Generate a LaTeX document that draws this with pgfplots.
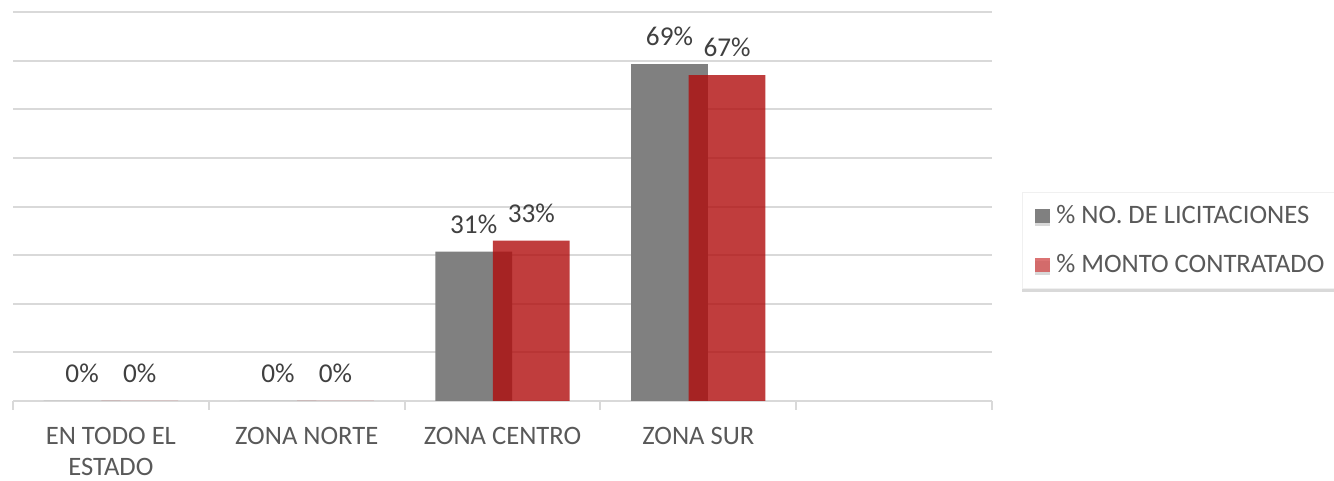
\documentclass[border=0pt]{standalone}
\usepackage{pgfplots}
\pgfplotsset{compat=1.18}
\usepackage{fontspec}
\setmainfont{Carlito}
\usetikzlibrary{shadows}
\definecolor{barGrey}{RGB}{128,128,128}
\definecolor{barRed}{RGB}{176,12,12}
\definecolor{legRed}{RGB}{210,80,80}
\definecolor{gridGrey}{RGB}{217,217,217}
\definecolor{txtGrey}{RGB}{89,89,89}
\definecolor{lblGrey}{RGB}{64,64,64}
\begin{document}
\begin{tikzpicture}
\path[use as bounding box] (-6.5pt,-40pt) rectangle (660.5pt,200.5pt);
\begin{axis}[
  at={(0,0)}, anchor=south west,
  scale only axis, width=489.5pt, height=194.5pt,
  xmin=-0.5, xmax=4.5, ymin=0, ymax=80,
  ybar, bar width=38.35pt,
  xtick={0,1,2,3},
  xticklabels={{EN TODO EL\\ESTADO},{ZONA NORTE},{ZONA CENTRO},{ZONA SUR}},
  xticklabel style={align=center, font=\fontsize{13.3}{15.4}\selectfont, text=txtGrey, inner sep=0pt, yshift=-8.5pt},
  major x tick style={draw=none},
  minor xtick={-0.5,0.5,1.5,2.5,3.5,4.5},
  minor x tick style={gridGrey, line width=1pt},
  tick align=outside, minor tick length=4.5pt, major tick length=4.5pt,
  ytick={0,10,...,80}, yticklabels={}, major y tick style={draw=none},
  ymajorgrids, grid style={gridGrey, line width=1pt},
  axis x line*=bottom, axis y line*=left,
  x axis line style={gridGrey, line width=1pt, -},
  y axis line style={draw=none},
  /pgf/number format/assume math mode=true,
  /pgf/number format/.cd, fixed, precision=0, /pgfplots/.cd,
  nodes near coords={\pgfmathprintnumber{\pgfplotspointmeta}\%},
  nodes near coords style={font=\fontsize{13.6}{16}\selectfont, text=lblGrey, text opacity=1, fill opacity=1, anchor=base, inner sep=0pt, yshift=9.25pt},
  legend style={at={(1.0306,0.5373)}, anchor=north west, draw=gray!12, fill=white,
    drop shadow={shadow xshift=0pt, shadow yshift=-1.5pt, opacity=0.3},
    font=\fontsize{13.3}{16}\selectfont, text=txtGrey, row sep=10pt,
    inner xsep=6.5pt, inner ysep=4.5pt, column sep=1pt},
  legend cell align=left,
  legend image code/.code={\fill[#1] (0pt,-3.6pt) rectangle (7.5pt,3.6pt);},
]
\addplot[fill=barGrey, draw=none, bar shift=-14.4pt] coordinates {(0,0) (1,0) (2,30.7) (3,69.3)};
\addplot[fill=barRed, fill opacity=0.8, draw=none, bar shift=14.4pt,
  legend image code/.code={\fill[legRed] (0pt,-3.6pt) rectangle (7.5pt,3.6pt);}] coordinates {(0,0) (1,0) (2,33) (3,67)};
\legend{\% NO. DE LICITACIONES, \% MONTO CONTRATADO}
\end{axis}
\end{tikzpicture}
\end{document}
